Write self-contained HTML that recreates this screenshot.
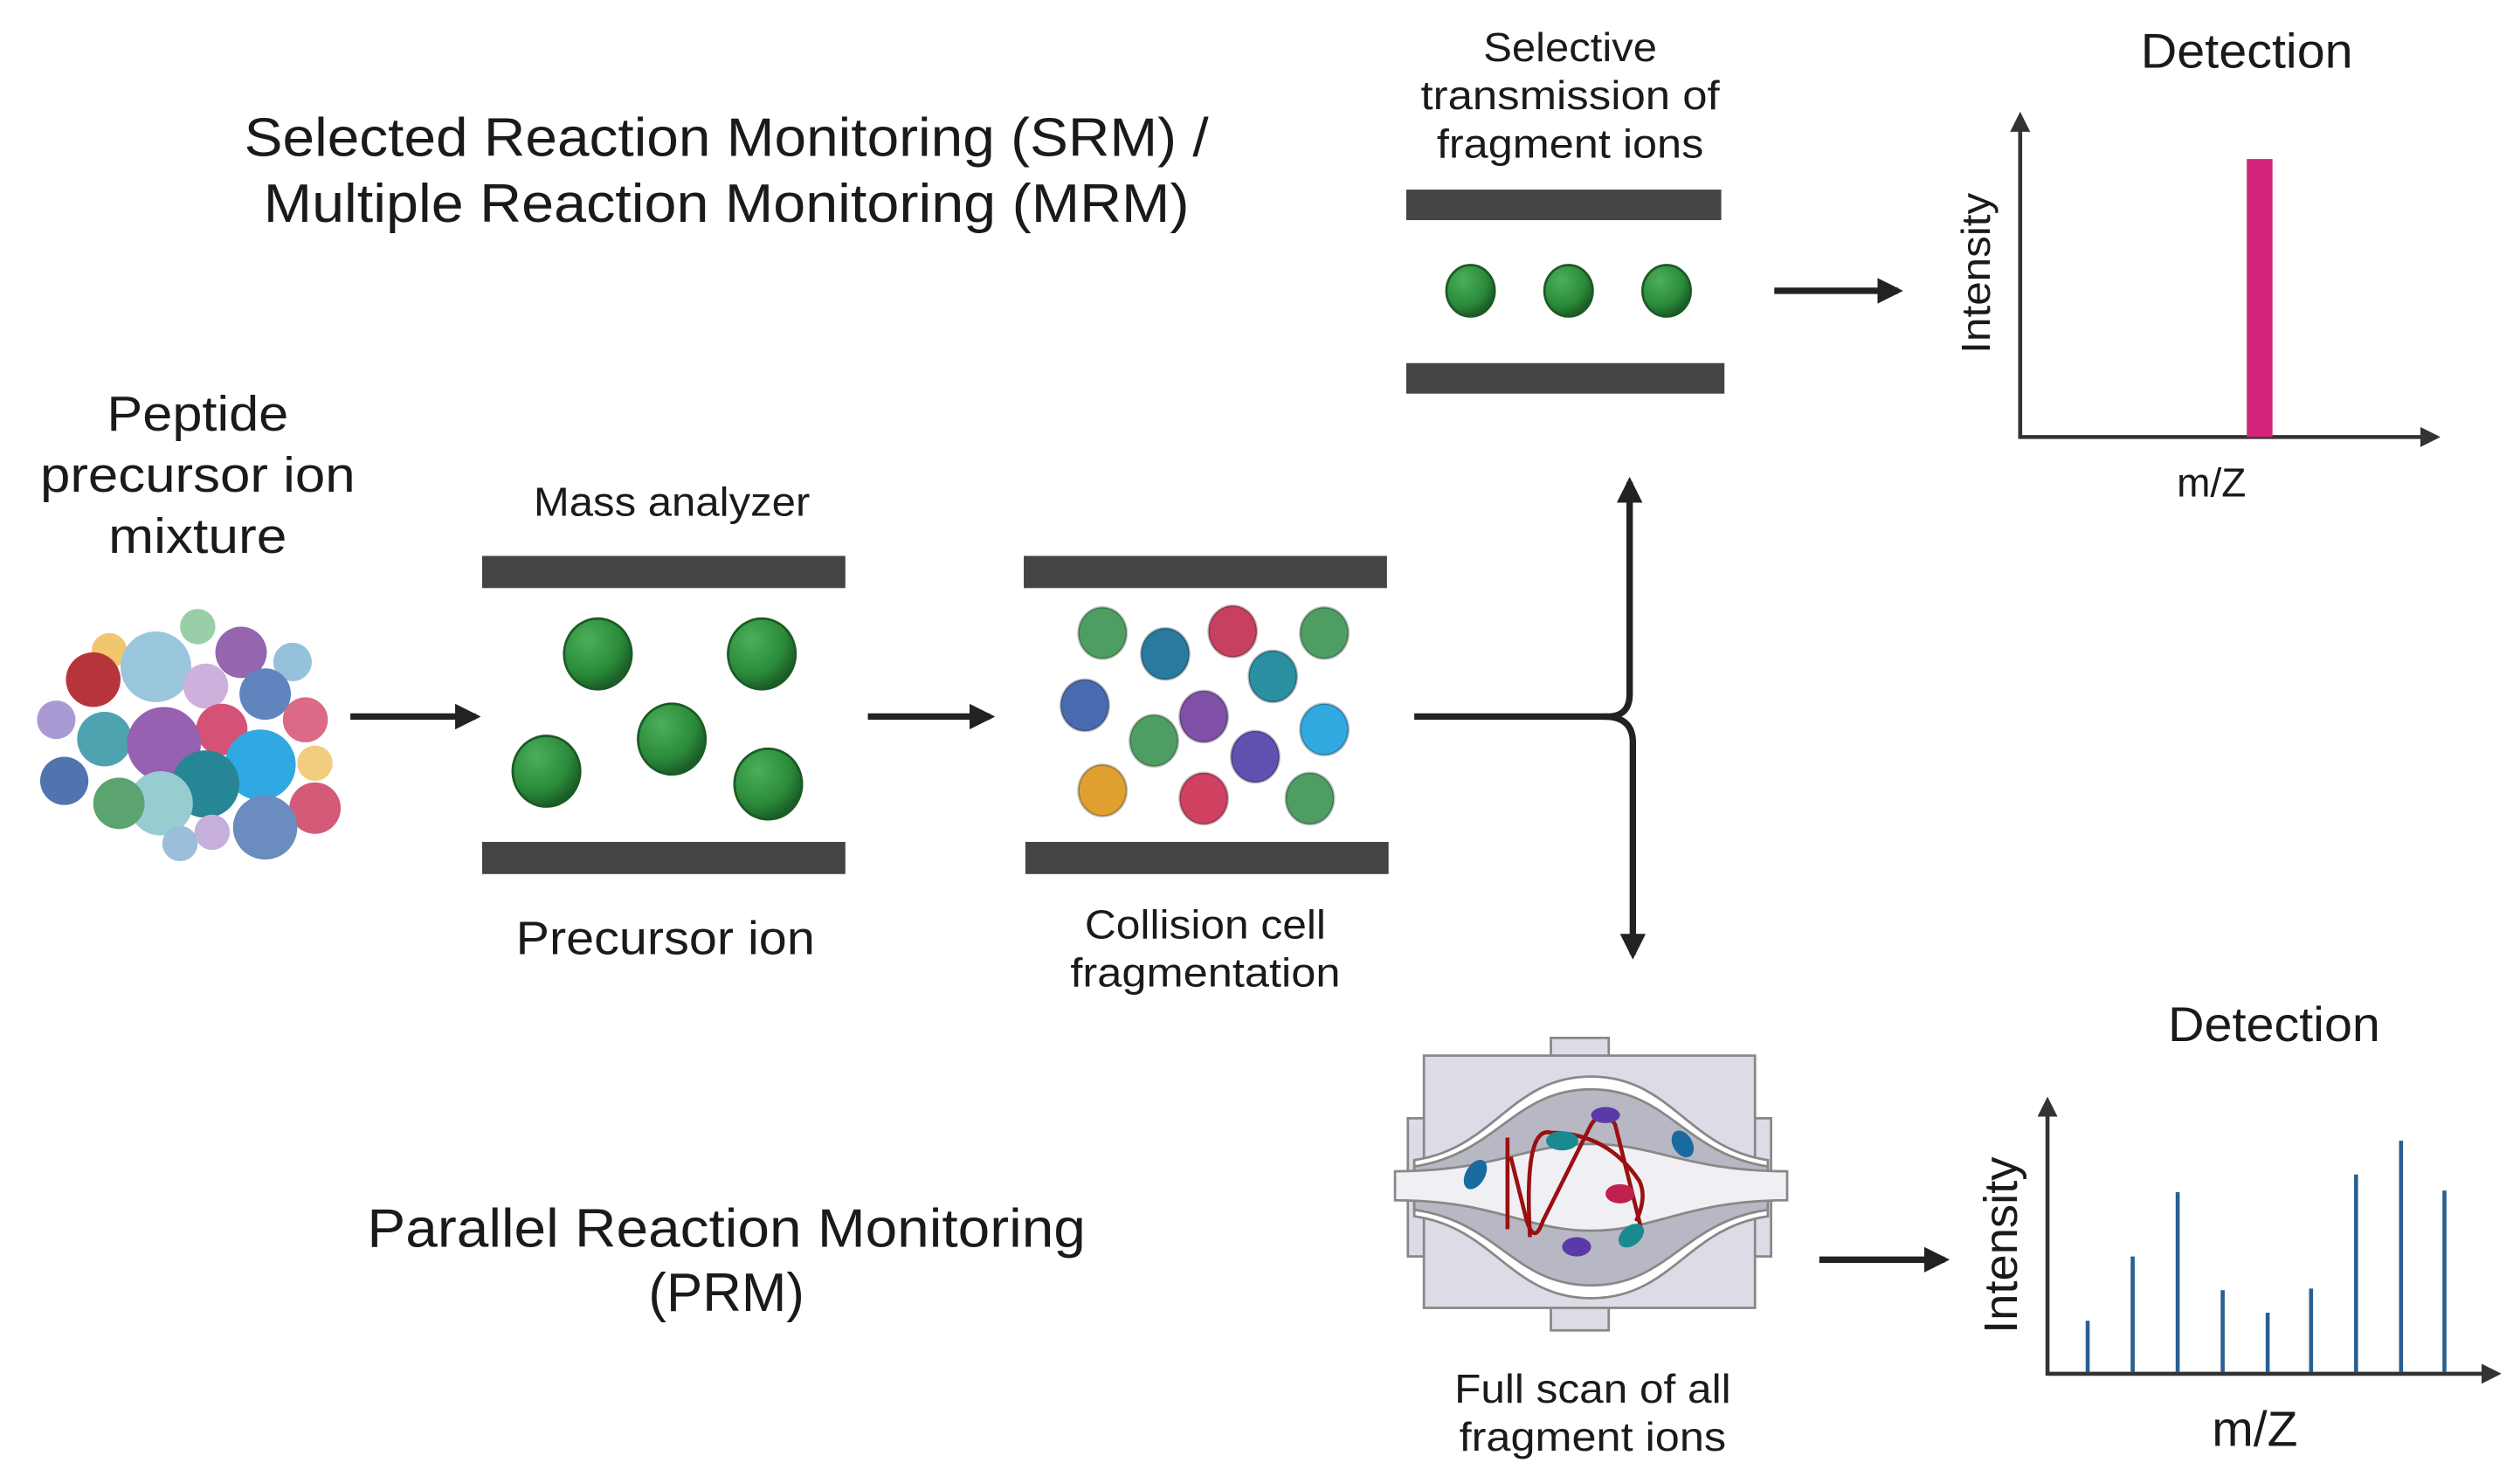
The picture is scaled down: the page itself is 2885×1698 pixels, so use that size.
<!DOCTYPE html>
<html><head><meta charset="utf-8"><style>
html,body{margin:0;padding:0;background:#fff;}
svg{display:block;}
text{font-family:"Liberation Sans",sans-serif;fill:#1a1a1a;}
</style></head><body>
<svg width="2885" height="1698" viewBox="0 0 1568 923" preserveAspectRatio="none" xmlns="http://www.w3.org/2000/svg">
<defs>
<radialGradient id="g" cx="35%" cy="30%" r="70%"><stop offset="0" stop-color="#4caf5a"/><stop offset="0.7" stop-color="#2a8a3a"/><stop offset="1" stop-color="#1c5e27"/></radialGradient>
<marker id="ah" viewBox="0 0 10 10" refX="8" refY="5" markerWidth="4" markerHeight="4" orient="auto"><path d="M0,0 L10,5 L0,10 z" fill="#222"/></marker>
<marker id="sm" viewBox="0 0 10 10" refX="8" refY="5" markerWidth="5" markerHeight="5" orient="auto"><path d="M0,0 L10,5 L0,10 z" fill="#333"/></marker>
</defs>

<text x="452" y="97" font-size="34" text-anchor="middle" textLength="600" lengthAdjust="spacingAndGlyphs">Selected Reaction Monitoring (SRM) /</text>
<text x="452" y="138" font-size="34" text-anchor="middle" textLength="576" lengthAdjust="spacingAndGlyphs">Multiple Reaction Monitoring (MRM)</text>
<text x="123" y="268" font-size="31" text-anchor="middle" textLength="113" lengthAdjust="spacingAndGlyphs">Peptide</text>
<text x="123" y="306" font-size="31" text-anchor="middle" textLength="196" lengthAdjust="spacingAndGlyphs">precursor ion</text>
<text x="123" y="344" font-size="31" text-anchor="middle" textLength="111" lengthAdjust="spacingAndGlyphs">mixture</text>

<g opacity="0.9">
<circle cx="123" cy="390" r="11" fill="#8fc9a0"/>
<circle cx="68" cy="405" r="11" fill="#f0c060"/>
<circle cx="97" cy="415" r="22" fill="#8ec0d8"/>
<circle cx="150" cy="406" r="16" fill="#8a55a8"/>
<circle cx="182" cy="412" r="12" fill="#8bbbd8"/>
<circle cx="128" cy="427" r="14" fill="#c8a8d8"/>
<circle cx="165" cy="432" r="16" fill="#5077b8"/>
<circle cx="58" cy="423" r="17" fill="#b02025"/>
<circle cx="35" cy="448" r="12" fill="#a090d0"/>
<circle cx="65" cy="460" r="17" fill="#3d9aa8"/>
<circle cx="190" cy="448" r="14" fill="#d85a7a"/>
<circle cx="138" cy="454" r="16" fill="#d04068"/>
<circle cx="102" cy="463" r="23" fill="#8a50a8"/>
<circle cx="162" cy="476" r="22" fill="#1aa0e0"/>
<circle cx="196" cy="475" r="11" fill="#f0c870"/>
<circle cx="128" cy="488" r="21" fill="#107a8a"/>
<circle cx="40" cy="486" r="15" fill="#3d65a8"/>
<circle cx="100" cy="500" r="20" fill="#8cc8cc"/>
<circle cx="74" cy="500" r="16" fill="#4a9a60"/>
<circle cx="196" cy="503" r="16" fill="#d04a6a"/>
<circle cx="132" cy="518" r="11" fill="#c0a8d8"/>
<circle cx="112" cy="525" r="11" fill="#90b8d8"/>
<circle cx="165" cy="515" r="20" fill="#5a80b8"/>
</g>

<line x1="218" y1="446" x2="296" y2="446" stroke="#222" stroke-width="4" marker-end="url(#ah)"/>

<text x="418" y="321" font-size="25" text-anchor="middle" textLength="172" lengthAdjust="spacingAndGlyphs">Mass analyzer</text>
<rect x="300" y="346" width="226" height="20" fill="#444"/>
<rect x="300" y="524" width="226" height="20" fill="#444"/>
<g fill="url(#g)" stroke="#1c5a25" stroke-width="1.5">
<ellipse cx="372" cy="407" rx="21" ry="22"/>
<ellipse cx="474" cy="407" rx="21" ry="22"/>
<ellipse cx="418" cy="460" rx="21" ry="22"/>
<ellipse cx="340" cy="480" rx="21" ry="22"/>
<ellipse cx="478" cy="488" rx="21" ry="22"/>
</g>
<text x="414" y="594" font-size="29" text-anchor="middle" textLength="186" lengthAdjust="spacingAndGlyphs">Precursor ion</text>

<line x1="540" y1="446" x2="616" y2="446" stroke="#222" stroke-width="4" marker-end="url(#ah)"/>

<rect x="637" y="346" width="226" height="20" fill="#444"/>
<rect x="638" y="524" width="226" height="20" fill="#444"/>
<g stroke-width="1.5" stroke="rgba(0,0,0,0.25)">
<ellipse cx="686" cy="394" rx="15" ry="16" fill="#4e9e64"/>
<ellipse cx="725" cy="407" rx="15" ry="16" fill="#2a7aa0"/>
<ellipse cx="767" cy="393" rx="15" ry="16" fill="#c84060"/>
<ellipse cx="824" cy="394" rx="15" ry="16" fill="#4e9e64"/>
<ellipse cx="792" cy="421" rx="15" ry="16" fill="#2a8fa0"/>
<ellipse cx="675" cy="439" rx="15" ry="16" fill="#4a6ab0"/>
<ellipse cx="749" cy="446" rx="15" ry="16" fill="#8050a8"/>
<ellipse cx="718" cy="461" rx="15" ry="16" fill="#4e9e64"/>
<ellipse cx="824" cy="454" rx="15" ry="16" fill="#30a8e0"/>
<ellipse cx="781" cy="471" rx="15" ry="16" fill="#6050b0"/>
<ellipse cx="686" cy="492" rx="15" ry="16" fill="#e0a030"/>
<ellipse cx="749" cy="497" rx="15" ry="16" fill="#d04060"/>
<ellipse cx="815" cy="497" rx="15" ry="16" fill="#4e9e64"/>
</g>
<text x="750" y="584" font-size="25" text-anchor="middle" textLength="150" lengthAdjust="spacingAndGlyphs">Collision cell</text>
<text x="750" y="614" font-size="25" text-anchor="middle" textLength="168" lengthAdjust="spacingAndGlyphs">fragmentation</text>

<path d="M880,446 L1000,446 Q1014,446 1014,432 L1014,300" fill="none" stroke="#222" stroke-width="4" marker-end="url(#ah)"/>
<path d="M998,446 Q1016,446 1016,462 L1016,594" fill="none" stroke="#222" stroke-width="4" marker-end="url(#ah)"/>

<text x="977" y="38" font-size="25" text-anchor="middle" textLength="108" lengthAdjust="spacingAndGlyphs">Selective</text>
<text x="977" y="68" font-size="25" text-anchor="middle" textLength="186" lengthAdjust="spacingAndGlyphs">transmission of</text>
<text x="977" y="98" font-size="25" text-anchor="middle" textLength="166" lengthAdjust="spacingAndGlyphs">fragment ions</text>
<rect x="875" y="118" width="196" height="19" fill="#444"/>
<rect x="875" y="226" width="198" height="19" fill="#444"/>
<g fill="url(#g)" stroke="#1c5a25" stroke-width="1.5">
<ellipse cx="915" cy="181" rx="15" ry="16"/>
<ellipse cx="976" cy="181" rx="15" ry="16"/>
<ellipse cx="1037" cy="181" rx="15" ry="16"/>
</g>
<line x1="1104" y1="181" x2="1181" y2="181" stroke="#222" stroke-width="4" marker-end="url(#ah)"/>

<text x="1398" y="42" font-size="30" text-anchor="middle" textLength="132" lengthAdjust="spacingAndGlyphs">Detection</text>
<line x1="1257" y1="273" x2="1257" y2="72" stroke="#333" stroke-width="2.5" marker-end="url(#sm)"/>
<line x1="1256" y1="272" x2="1516" y2="272" stroke="#333" stroke-width="2.5" marker-end="url(#sm)"/>
<rect x="1398" y="99" width="16" height="173" fill="#d4237a"/>
<text x="0" y="0" font-size="25" text-anchor="middle" transform="translate(1238,170) rotate(-90)" textLength="100" lengthAdjust="spacingAndGlyphs">Intensity</text>
<text x="1376" y="309" font-size="25" text-anchor="middle">m/Z</text>

<text x="452" y="776" font-size="34" text-anchor="middle" textLength="447" lengthAdjust="spacingAndGlyphs">Parallel Reaction Monitoring</text>
<text x="452" y="816" font-size="34" text-anchor="middle" textLength="97" lengthAdjust="spacingAndGlyphs">(PRM)</text>

<g stroke="#888" stroke-width="1.5">
<rect x="965" y="646" width="36" height="182" fill="#dcdce6"/>
<rect x="876" y="696" width="226" height="86" fill="#dcdce6"/>
<rect x="886" y="657" width="206" height="157" fill="#dcdce6"/>
<path d="M880,722 C930,715 940,670 990,670 C1040,670 1050,715 1100,722 L1100,757 C1050,764 1040,808 990,808 C940,808 930,764 880,757 Z" fill="#fff"/>
<path d="M880,726 C932,718 942,678 990,678 C1038,678 1048,718 1100,726 L1100,753 C1048,760 1038,800 990,800 C942,800 932,760 880,753 Z" fill="#b8b8c4"/>
<path d="M868,729 C930,729 950,712 990,712 C1030,712 1050,729 1112,729 L1112,747 C1050,747 1030,766 990,766 C950,766 930,747 868,747 Z" fill="#f0f0f4"/>
</g>
<g fill="none" stroke="#9a1010" stroke-width="2.5">
<path d="M938,708 L938,765"/>
<path d="M940,720 L950,760 Q955,775 960,760 L990,700 Q998,688 1005,700 L1020,760 Q1024,775 1010,770"/>
<path d="M952,770 Q948,700 965,705 Q1000,705 1020,735 Q1025,745 1018,760"/>
</g>
<g>
<ellipse cx="999" cy="694" rx="9" ry="5" fill="#5a3aa8"/>
<ellipse cx="972" cy="710" rx="10" ry="6" fill="#1a8a90"/>
<ellipse cx="1047" cy="712" rx="6" ry="9" fill="#1a6aa0" transform="rotate(-30 1047 712)"/>
<ellipse cx="918" cy="731" rx="6" ry="10" fill="#1a6aa0" transform="rotate(30 918 731)"/>
<ellipse cx="1008" cy="743" rx="9" ry="6" fill="#c02050"/>
<ellipse cx="1015" cy="769" rx="6" ry="9" fill="#1a8a90" transform="rotate(50 1015 769)"/>
<ellipse cx="981" cy="776" rx="9" ry="6" fill="#5a3aa8"/>
</g>
<text x="991" y="873" font-size="25" text-anchor="middle" textLength="172" lengthAdjust="spacingAndGlyphs">Full scan of all</text>
<text x="991" y="903" font-size="25" text-anchor="middle" textLength="166" lengthAdjust="spacingAndGlyphs">fragment ions</text>

<line x1="1132" y1="784" x2="1210" y2="784" stroke="#222" stroke-width="4" marker-end="url(#ah)"/>

<text x="1415" y="648" font-size="30" text-anchor="middle" textLength="132" lengthAdjust="spacingAndGlyphs">Detection</text>
<line x1="1274" y1="856" x2="1274" y2="685" stroke="#333" stroke-width="2.5" marker-end="url(#sm)"/>
<line x1="1273" y1="855" x2="1554" y2="855" stroke="#333" stroke-width="2.5" marker-end="url(#sm)"/>
<g stroke="#2a5f90" stroke-width="2.5">
<line x1="1299" y1="854" x2="1299" y2="822"/>
<line x1="1327" y1="854" x2="1327" y2="782"/>
<line x1="1355" y1="854" x2="1355" y2="742"/>
<line x1="1383" y1="854" x2="1383" y2="803"/>
<line x1="1411" y1="854" x2="1411" y2="817"/>
<line x1="1438" y1="854" x2="1438" y2="802"/>
<line x1="1466" y1="854" x2="1466" y2="731"/>
<line x1="1494" y1="854" x2="1494" y2="710"/>
<line x1="1521" y1="854" x2="1521" y2="741"/>
</g>
<text x="0" y="0" font-size="29" text-anchor="middle" transform="translate(1255,775) rotate(-90)" textLength="110" lengthAdjust="spacingAndGlyphs">Intensity</text>
<text x="1403" y="900" font-size="31" text-anchor="middle">m/Z</text>
</svg>
</body></html>
